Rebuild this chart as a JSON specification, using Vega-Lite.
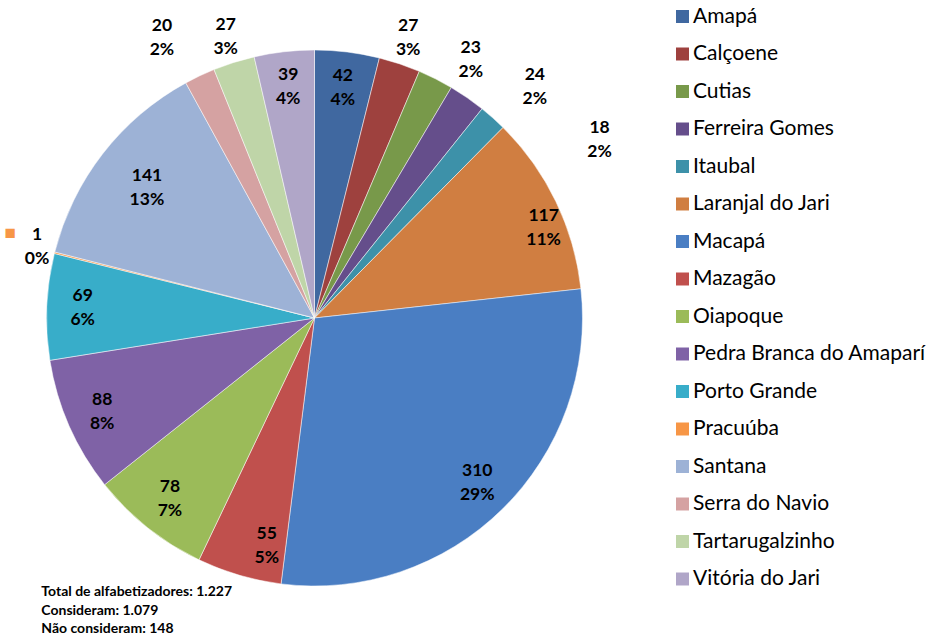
{
  "$schema": "https://vega.github.io/schema/vega-lite/v6.json",
  "width": 629,
  "height": 636,
  "autosize": "none",
  "padding": {"left": 0, "top": 0, "right": 302, "bottom": 1},
  "background": "white",
  "config": {"view": {"stroke": null}, "font": "Lato", "text": {"font": "Lato"}},
  "title": {
    "text": ["Total de alfabetizadores: 1.227", "Consideram: 1.079", "Não consideram: 148"],
    "orient": "bottom",
    "anchor": "start",
    "baseline": "top",
    "offset": -64,
    "dx": 60,
    "fontSize": 14,
    "fontWeight": "bold",
    "font": "Lato",
    "lineHeight": 18.5,
    "color": "#000000"
  },
  "data": {
    "values": [
      {"municipio": "Amapá", "valor": 42, "pct": "4%", "ordem": 1},
      {"municipio": "Calçoene", "valor": 27, "pct": "3%", "ordem": 2},
      {"municipio": "Cutias", "valor": 23, "pct": "2%", "ordem": 3},
      {"municipio": "Ferreira Gomes", "valor": 24, "pct": "2%", "ordem": 4},
      {"municipio": "Itaubal", "valor": 18, "pct": "2%", "ordem": 5},
      {"municipio": "Laranjal do Jari", "valor": 117, "pct": "11%", "ordem": 6},
      {"municipio": "Macapá", "valor": 310, "pct": "29%", "ordem": 7},
      {"municipio": "Mazagão", "valor": 55, "pct": "5%", "ordem": 8},
      {"municipio": "Oiapoque", "valor": 78, "pct": "7%", "ordem": 9},
      {"municipio": "Pedra Branca do Amaparí", "valor": 88, "pct": "8%", "ordem": 10},
      {"municipio": "Porto Grande", "valor": 69, "pct": "6%", "ordem": 11},
      {"municipio": "Pracuúba", "valor": 1, "pct": "0%", "ordem": 12},
      {"municipio": "Santana", "valor": 141, "pct": "13%", "ordem": 13},
      {"municipio": "Serra do Navio", "valor": 20, "pct": "2%", "ordem": 14},
      {"municipio": "Tartarugalzinho", "valor": 27, "pct": "3%", "ordem": 15},
      {"municipio": "Vitória do Jari", "valor": 39, "pct": "4%", "ordem": 16}
    ]
  },
  "encoding": {
    "theta": {"field": "valor", "type": "quantitative", "stack": true},
    "order": {"field": "ordem", "type": "quantitative"}
  },
  "layer": [
    {
      "mark": {"type": "arc", "outerRadius": 268, "stroke": "white", "strokeWidth": 0.5},
      "encoding": {
        "color": {
          "field": "municipio",
          "type": "nominal",
          "sort": null,
          "scale": {
            "domain": ["Amapá", "Calçoene", "Cutias", "Ferreira Gomes", "Itaubal", "Laranjal do Jari", "Macapá", "Mazagão", "Oiapoque", "Pedra Branca do Amaparí", "Porto Grande", "Pracuúba", "Santana", "Serra do Navio", "Tartarugalzinho", "Vitória do Jari"],
            "range": ["#4068A0", "#9E413E", "#78994A", "#654E8B", "#3D91A9", "#D07E41", "#4A7EC3", "#C0504D", "#9BBB59", "#7F62A6", "#38ADC9", "#F79646", "#9DB2D6", "#D5A2A2", "#BFD5A8", "#B0A6C8"]
          },
          "legend": {
            "orient": "none",
            "legendX": 672,
            "legendY": 6,
            "title": null,
            "symbolType": "square",
            "symbolSize": 169,
            "symbolStrokeWidth": 0,
            "labelFontSize": 21,
            "labelFont": "Lato",
            "labelColor": "#000000",
            "labelOffset": 0,
            "labelLimit": 300,
            "rowPadding": 15.5,
            "padding": 0
          }
        }
      }
    },
    {
      "mark": {"type": "text", "radius": 232, "dy": -12, "fontSize": 17.5, "fontWeight": "bold", "color": "#000000"},
      "encoding": {"text": {"condition": {"test": "datum.valor >= 30 && indexof(['Santana','Laranjal do Jari','Mazagão'], datum.municipio) < 0", "field": "valor"}, "value": ""}}
    },
    {
      "mark": {"type": "text", "radius": 232, "dy": 12, "fontSize": 17.5, "fontWeight": "bold", "color": "#000000"},
      "encoding": {"text": {"condition": {"test": "datum.valor >= 30 && indexof(['Santana','Laranjal do Jari','Mazagão'], datum.municipio) < 0", "field": "pct"}, "value": ""}}
    },
    {
      "mark": {"type": "text", "radius": 212, "dy": -12, "fontSize": 17.5, "fontWeight": "bold", "color": "#000000"},
      "encoding": {"text": {"condition": {"test": "datum.municipio == 'Santana'", "field": "valor"}, "value": ""}}
    },
    {
      "mark": {"type": "text", "radius": 212, "dy": 12, "fontSize": 17.5, "fontWeight": "bold", "color": "#000000"},
      "encoding": {"text": {"condition": {"test": "datum.municipio == 'Santana'", "field": "pct"}, "value": ""}}
    },
    {
      "mark": {"type": "text", "radius": 246, "thetaOffset": 0.077, "dy": -12, "fontSize": 17.5, "fontWeight": "bold", "color": "#000000"},
      "encoding": {"text": {"condition": {"test": "datum.municipio == 'Laranjal do Jari'", "field": "valor"}, "value": ""}}
    },
    {
      "mark": {"type": "text", "radius": 246, "thetaOffset": 0.077, "dy": 12, "fontSize": 17.5, "fontWeight": "bold", "color": "#000000"},
      "encoding": {"text": {"condition": {"test": "datum.municipio == 'Laranjal do Jari'", "field": "pct"}, "value": ""}}
    },
    {
      "mark": {"type": "text", "radius": 233, "thetaOffset": -0.079, "dy": -12, "fontSize": 17.5, "fontWeight": "bold", "color": "#000000"},
      "encoding": {"text": {"condition": {"test": "datum.municipio == 'Mazagão'", "field": "valor"}, "value": ""}}
    },
    {
      "mark": {"type": "text", "radius": 233, "thetaOffset": -0.079, "dy": 12, "fontSize": 17.5, "fontWeight": "bold", "color": "#000000"},
      "encoding": {"text": {"condition": {"test": "datum.municipio == 'Mazagão'", "field": "pct"}, "value": ""}}
    },
    {
      "mark": {"type": "text", "radius": 295, "dy": -12, "fontSize": 17.5, "fontWeight": "bold", "color": "#000000"},
      "encoding": {"text": {"condition": {"test": "datum.municipio == 'Calçoene' || datum.municipio == 'Tartarugalzinho'", "field": "valor"}, "value": ""}}
    },
    {
      "mark": {"type": "text", "radius": 295, "dy": 12, "fontSize": 17.5, "fontWeight": "bold", "color": "#000000"},
      "encoding": {"text": {"condition": {"test": "datum.municipio == 'Calçoene' || datum.municipio == 'Tartarugalzinho'", "field": "pct"}, "value": ""}}
    },
    {
      "mark": {"type": "text", "radius": 302, "thetaOffset": 0.075, "dy": -12, "fontSize": 17.5, "fontWeight": "bold", "color": "#000000"},
      "encoding": {"text": {"condition": {"test": "datum.municipio == 'Cutias'", "field": "valor"}, "value": ""}}
    },
    {
      "mark": {"type": "text", "radius": 302, "thetaOffset": 0.075, "dy": 12, "fontSize": 17.5, "fontWeight": "bold", "color": "#000000"},
      "encoding": {"text": {"condition": {"test": "datum.municipio == 'Cutias'", "field": "pct"}, "value": ""}}
    },
    {
      "mark": {"type": "text", "radius": 319, "thetaOffset": 0.157, "dy": -12, "fontSize": 17.5, "fontWeight": "bold", "color": "#000000"},
      "encoding": {"text": {"condition": {"test": "datum.municipio == 'Ferreira Gomes'", "field": "valor"}, "value": ""}}
    },
    {
      "mark": {"type": "text", "radius": 319, "thetaOffset": 0.157, "dy": 12, "fontSize": 17.5, "fontWeight": "bold", "color": "#000000"},
      "encoding": {"text": {"condition": {"test": "datum.municipio == 'Ferreira Gomes'", "field": "pct"}, "value": ""}}
    },
    {
      "mark": {"type": "text", "radius": 336, "thetaOffset": 0.285, "dy": -12, "fontSize": 17.5, "fontWeight": "bold", "color": "#000000"},
      "encoding": {"text": {"condition": {"test": "datum.municipio == 'Itaubal'", "field": "valor"}, "value": ""}}
    },
    {
      "mark": {"type": "text", "radius": 336, "thetaOffset": 0.285, "dy": 12, "fontSize": 17.5, "fontWeight": "bold", "color": "#000000"},
      "encoding": {"text": {"condition": {"test": "datum.municipio == 'Itaubal'", "field": "pct"}, "value": ""}}
    },
    {
      "mark": {"type": "text", "radius": 319, "thetaOffset": -0.056, "dy": -12, "fontSize": 17.5, "fontWeight": "bold", "color": "#000000"},
      "encoding": {"text": {"condition": {"test": "datum.municipio == 'Serra do Navio'", "field": "valor"}, "value": ""}}
    },
    {
      "mark": {"type": "text", "radius": 319, "thetaOffset": -0.056, "dy": 12, "fontSize": 17.5, "fontWeight": "bold", "color": "#000000"},
      "encoding": {"text": {"condition": {"test": "datum.municipio == 'Serra do Navio'", "field": "pct"}, "value": ""}}
    },
    {
      "mark": {"type": "text", "radius": 286, "dy": -13, "fontSize": 17.5, "fontWeight": "bold", "color": "#000000"},
      "encoding": {"text": {"condition": {"test": "datum.municipio == 'Pracuúba'", "field": "valor"}, "value": ""}}
    },
    {
      "mark": {"type": "text", "radius": 286, "dy": 11, "fontSize": 17.5, "fontWeight": "bold", "color": "#000000"},
      "encoding": {"text": {"condition": {"test": "datum.municipio == 'Pracuúba'", "field": "pct"}, "value": ""}}
    },
    {
      "mark": {"type": "text", "radius": 286, "dy": -15, "dx": -27, "fontSize": 19, "color": "#F79646"},
      "encoding": {"text": {"condition": {"test": "datum.municipio == 'Pracuúba'", "value": "■"}, "value": ""}}
    }
  ]
}
